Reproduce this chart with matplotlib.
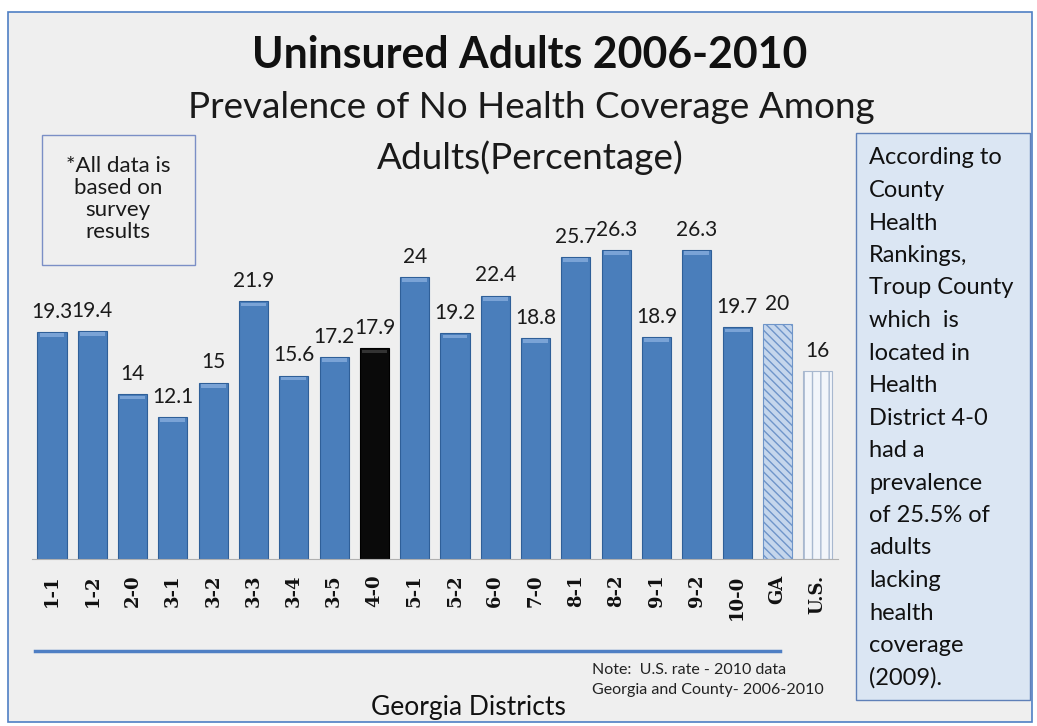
import matplotlib
matplotlib.use("Agg")
import matplotlib.pyplot as plt
from matplotlib.patches import Rectangle
import numpy as np

# Data
districts = ["1-1", "1-2", "2-0", "3-1", "3-2", "3-3", "3-4", "3-5", "4-0", "5-1",
             "5-2", "6-0", "7-0", "8-1", "8-2", "9-1", "9-2", "10-0", "GA", "U.S."]
values = [19.3, 19.4, 14, 12.1, 15, 21.9, 15.6, 17.2, 17.9, 24,
          19.2, 22.4, 18.8, 25.7, 26.3, 18.9, 26.3, 19.7, 20, 16]
value_labels = ["19.3", "19.4", "14", "12.1", "15", "21.9", "15.6", "17.2", "17.9", "24",
                "19.2", "22.4", "18.8", "25.7", "26.3", "18.9", "26.3", "19.7", "20", "16"]

title = "Uninsured Adults 2006-2010"
subtitle = ["Prevalence of No Health Coverage Among", "Adults(Percentage)"]
note_box = "*All data is\nbased on\nsurvey\nresults"
side_lines = ["According to", "County", "Health", "Rankings,", "Troup County",
              "which  is", "located in", "Health", "District 4-0", "had a",
              "prevalence", "of 25.5% of", "adults", "lacking", "health",
              "coverage", "(2009)."]
source_note = ["Note:  U.S. rate - 2010 data", "Georgia and County- 2006-2010"]
xlabel = "Georgia Districts"

plt.rcParams['font.family'] = ['Lato', 'DejaVu Sans']

W, H = 1037, 726
fig = plt.figure(figsize=(W / 100, H / 100), dpi=100)
fig.patch.set_facecolor("white")


def fx(px):
    return px / W


def fy(py):
    return 1 - py / H


# slide background and frame
fig.patches.append(Rectangle((fx(8), fy(722)), fx(1024), (722 - 12) / H,
                             transform=fig.transFigure, facecolor="#efefef",
                             edgecolor="#4f7fc4", linewidth=1.2, zorder=-5))

n = len(districts)
x = np.arange(n)
base_px, unit_px = 559, 11.76
ymax = 30
top_px = base_px - ymax * unit_px
step = 40.3
left_px = 52 - step / 2
ax = fig.add_axes([fx(left_px), fy(base_px), fx(step * n), (base_px - top_px) / H])
ax.set_zorder(2)
ax.set_facecolor("none")
ax.set_xlim(-0.5, n - 0.5)
ax.set_ylim(0, ymax)

colors = ["#4a7ebb"] * n
colors[districts.index("4-0")] = "#0a0a0a"
for i in range(n - 2):
    dark = colors[i] == "#0a0a0a"
    ax.bar(x[i], values[i], width=0.72, color=colors[i],
           edgecolor="#000000" if dark else "#2f5f98",
           linewidth=0.8, zorder=2)
    # light highlight along the bar top
    ax.bar(x[i], 0.3, bottom=values[i] - 0.42, width=0.62,
           color="#333333" if dark else "#7aa3d6",
           linewidth=0, zorder=3)

plt.rcParams['hatch.linewidth'] = 1.0
ga = districts.index("GA")
ax.bar(x[ga], values[ga], width=0.72, facecolor="#c5d6ec", edgecolor="#6f95c9",
       hatch="\\\\\\\\", linewidth=0.8, zorder=2)
us = districts.index("U.S.")
ax.bar(x[us], values[us], width=0.72, facecolor="#f2f5fa", edgecolor="#a8b8cf",
       hatch="||", linewidth=0.8, zorder=2)

for i in range(n):
    ax.text(x[i], values[i] + 1.2, value_labels[i], ha="center", va="baseline",
            fontsize=15, color="#1a1a1a")

for s in ["top", "left", "right"]:
    ax.spines[s].set_visible(False)
ax.spines["bottom"].set_color("#b0b0b0")
ax.set_yticks([])
ax.set_xticks(x)
ax.set_xticklabels(districts, rotation=90, fontsize=13, color="#111111",
                   family="DejaVu Serif", fontweight="bold")
ax.tick_params(axis="x", length=0, pad=11)

# titles
fig.text(fx(530), fy(55), title, ha="center", va="center", fontsize=30.8,
         fontweight="bold", color="#111111")
fig.text(fx(531), fy(108), subtitle[0], ha="center", va="center", fontsize=26.6,
         color="#1a1a1a")
fig.text(fx(530), fy(158), subtitle[1], ha="center", va="center", fontsize=26.6,
         color="#1a1a1a")

# left note box
fig.patches.append(Rectangle((fx(42), fy(265)), fx(153), (265 - 135) / H,
                             transform=fig.transFigure, facecolor="none",
                             edgecolor="#7b8fc6", linewidth=1.0, zorder=1))
fig.text(fx(118), fy(199), note_box, ha="center", va="center", fontsize=16,
         linespacing=1.12, color="#1a1a1a")

# right commentary box
fig.patches.append(Rectangle((fx(856), fy(700)), fx(174), (700 - 133) / H,
                             transform=fig.transFigure, facecolor="#dbe6f3",
                             edgecolor="#5f80b8", linewidth=1.0, zorder=1))
for k, line in enumerate(side_lines):
    fig.text(fx(869), fy(158 + k * 32.5), line, ha="left", va="center",
             fontsize=17, color="#111111")

# separator line and footer
fig.add_artist(plt.Line2D([fx(35), fx(780)], [fy(651), fy(651)],
                          transform=fig.transFigure, color="#4f7fc4", lw=2.5))
fig.text(fx(592), fy(670), source_note[0], ha="left", va="center", fontsize=11.5,
         color="#222222")
fig.text(fx(592), fy(690), source_note[1], ha="left", va="center", fontsize=11.5,
         color="#222222")
fig.text(fx(468), fy(707), xlabel, ha="center", va="center", fontsize=19,
         color="#111111")

fig.savefig("out.png", dpi=100)
